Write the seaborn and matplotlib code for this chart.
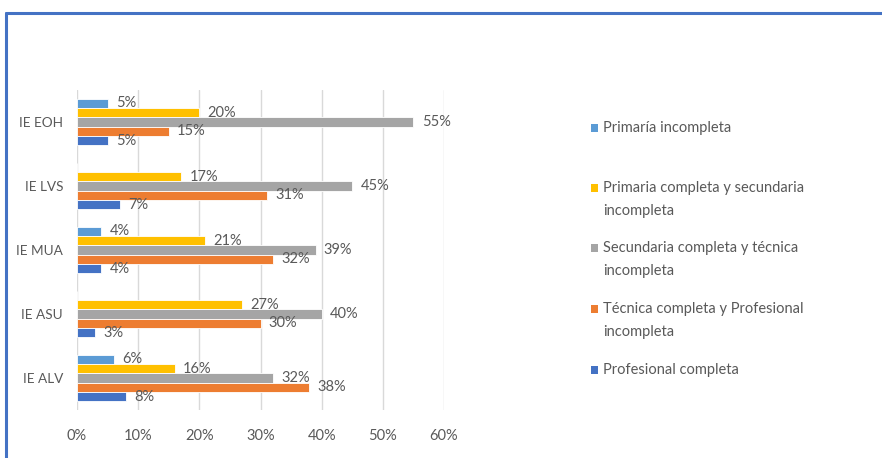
import matplotlib
matplotlib.use("Agg")
import matplotlib.pyplot as plt
from matplotlib.patches import Rectangle
from matplotlib.lines import Line2D
import seaborn as sns
import pandas as pd

schools = ["IE EOH", "IE LVS", "IE MUA", "IE ASU", "IE ALV"]
levels = [
    "Primaría incompleta",
    "Primaria completa y secundaria\nincompleta",
    "Secundaria completa y técnica\nincompleta",
    "Técnica completa y Profesional\nincompleta",
    "Profesional completa",
]
primaria_incompleta = [5, 0, 4, 0, 6]
primaria_completa = [20, 17, 21, 27, 16]
secundaria_completa = [55, 45, 39, 40, 32]
tecnica_completa = [15, 31, 32, 30, 38]
profesional_completa = [5, 7, 4, 3, 8]
x_ticks = [0, 10, 20, 30, 40, 50, 60]
colors = ["#5B9BD5", "#FFC000", "#A5A5A5", "#ED7D31", "#4472C4"]

series = [primaria_incompleta, primaria_completa, secundaria_completa,
          tecnica_completa, profesional_completa]
rows = []
for lvl, vals in zip(levels, series):
    for s, v in zip(schools, vals):
        rows.append({"school": s, "level": lvl, "value": v})
df = pd.DataFrame(rows)

sns.set_theme(style="white")
plt.rcParams["font.family"] = ["Lato", "DejaVu Sans"]
txt = "#595959"

fig = plt.figure(figsize=(8.82, 4.58), dpi=100)
ax = fig.add_axes([77/882, 1-410/458, (444-77)/882, (410-90)/458])

sns.barplot(data=df, x="value", y="school", hue="level", order=schools,
            hue_order=levels, palette=colors, saturation=1, orient="h",
            width=0.73, edgecolor="white", linewidth=0.6, legend=False,
            ax=ax, errorbar=None)

for cont, vals in zip(ax.containers, series):
    labs = [f"{v}%" if v > 0 else "" for v in vals]
    ax.bar_label(cont, labels=labs, padding=6, color=txt, fontsize=10.5)

ax.set_xlim(0, 60)
ax.set_xticks(x_ticks)
ax.set_xticklabels([f"{t}%" for t in x_ticks])
ax.set_xlabel("")
ax.set_ylabel("")
ax.grid(axis="x", color="#D9D9D9", linewidth=1)
ax.grid(axis="y", visible=False)
ax.set_axisbelow(True)
for sp in ax.spines.values():
    sp.set_visible(False)
ax.tick_params(axis="both", length=0, colors=txt, labelsize=10.5)
ax.tick_params(axis="y", pad=10, labelsize=9.8)
ax.tick_params(axis="x", pad=14)

# legend drawn manually (markers evenly spaced, text top aligned)
W, H = 882, 458
leg_y = [128, 188, 248, 309, 370]
for lvl, c, y in zip(levels, colors, leg_y):
    fig.add_artist(Rectangle((591/W, 1-(y+4)/H), 7/W, 8/H,
                             transform=fig.transFigure, color=c, lw=0))
    fig.text(603/W, 1-(y-7)/H, lvl, ha="left", va="top", color=txt,
             fontsize=10.5, linespacing=1.85)

# blue frame
fig.add_artist(Line2D([6/W, 1], [1-13/H, 1-13/H], transform=fig.transFigure,
                      color="#4472C4", lw=2.2))
fig.add_artist(Line2D([6/W, 6/W], [0, 1-13/H], transform=fig.transFigure,
                      color="#4472C4", lw=2.2))

fig.savefig("out.png", dpi=100)
